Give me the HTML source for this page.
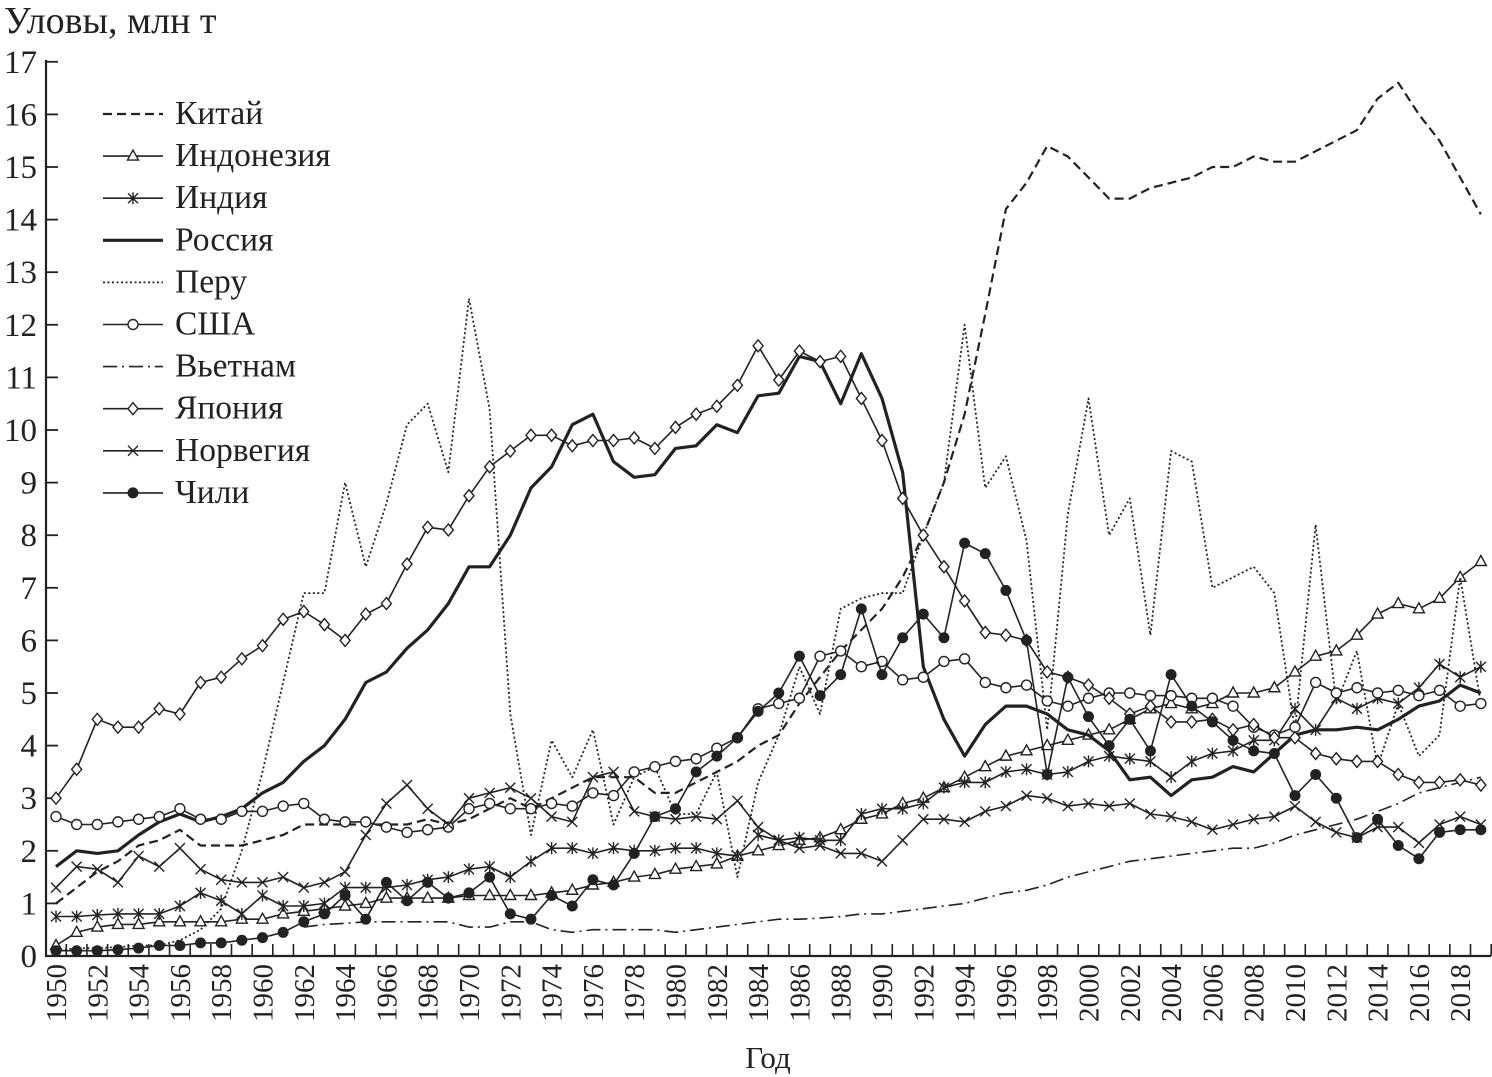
<!DOCTYPE html>
<html><head><meta charset="utf-8"><style>
body{margin:0;background:#fff}
svg{display:block;font-family:"Liberation Serif",serif}
</style></head><body>
<svg id="c" width="1492" height="1077"></svg>
<script>
const years=[];for(let y=1950;y<=2019;y++)years.push(y);
const china=[1.0,1.3,1.6,1.8,2.1,2.2,2.4,2.1,2.1,2.1,2.2,2.3,2.5,2.5,2.5,2.5,2.5,2.5,2.6,2.5,2.6,2.8,3.0,2.8,3.0,3.2,3.4,3.4,3.4,3.1,3.1,3.3,3.5,3.7,4.0,4.2,4.8,5.3,5.8,6.2,6.6,7.2,8.0,9.0,10.3,12.2,14.2,14.7,15.4,15.2,14.8,14.4,14.4,14.6,14.7,14.8,15.0,15.0,15.2,15.1,15.1,15.3,15.5,15.7,16.3,16.6,16.0,15.5,14.8,14.1];
const indonesia=[0.2,0.45,0.55,0.6,0.6,0.65,0.65,0.65,0.65,0.7,0.7,0.8,0.85,0.9,0.95,1.0,1.1,1.1,1.1,1.1,1.15,1.15,1.15,1.15,1.2,1.25,1.35,1.4,1.5,1.55,1.65,1.7,1.75,1.9,2.0,2.1,2.2,2.25,2.4,2.6,2.7,2.9,3.0,3.2,3.4,3.6,3.8,3.9,4.0,4.1,4.2,4.3,4.5,4.7,4.8,4.7,4.8,5.0,5.0,5.1,5.4,5.7,5.8,6.1,6.5,6.7,6.6,6.8,7.2,7.5];
const india=[0.75,0.75,0.78,0.8,0.8,0.8,0.95,1.2,1.05,0.8,1.15,0.95,0.95,1.0,1.3,1.3,1.3,1.35,1.45,1.5,1.65,1.7,1.5,1.8,2.05,2.05,1.95,2.05,2.0,2.0,2.05,2.05,1.95,1.9,2.3,2.2,2.25,2.2,2.2,2.7,2.8,2.8,2.9,3.2,3.3,3.3,3.5,3.55,3.45,3.5,3.7,3.8,3.75,3.7,3.4,3.7,3.85,3.9,4.1,4.1,4.7,4.3,4.9,4.7,4.9,4.8,5.1,5.55,5.3,5.5];
const russia=[1.7,2.0,1.95,2.0,2.3,2.55,2.7,2.55,2.65,2.8,3.1,3.3,3.7,4.0,4.5,5.2,5.4,5.85,6.2,6.7,7.4,7.4,8.0,8.9,9.3,10.1,10.3,9.4,9.1,9.15,9.65,9.7,10.1,9.95,10.65,10.7,11.4,11.3,10.5,11.45,10.6,9.2,5.5,4.5,3.8,4.4,4.75,4.75,4.6,4.3,4.2,3.9,3.35,3.4,3.05,3.35,3.4,3.6,3.5,3.85,4.2,4.3,4.3,4.35,4.3,4.5,4.75,4.85,5.15,5.0];
const peru=[0.1,0.15,0.15,0.17,0.2,0.2,0.3,0.5,0.9,2.0,3.5,5.2,6.9,6.9,9.0,7.4,8.6,10.1,10.5,9.2,12.5,10.4,4.6,2.3,4.1,3.4,4.3,2.5,3.4,3.6,2.7,2.7,3.5,1.5,3.3,4.2,5.5,4.6,6.6,6.8,6.9,6.9,8.0,9.0,12.0,8.9,9.5,7.9,4.3,8.4,10.6,8.0,8.7,6.1,9.6,9.4,7.0,7.2,7.4,6.9,4.3,8.2,4.8,5.8,3.6,4.8,3.8,4.2,7.2,4.8];
const usa=[2.65,2.5,2.5,2.55,2.6,2.65,2.8,2.6,2.6,2.75,2.75,2.85,2.9,2.6,2.55,2.55,2.45,2.35,2.4,2.45,2.8,2.9,2.8,2.8,2.9,2.85,3.1,3.05,3.5,3.6,3.7,3.75,3.95,4.15,4.7,4.8,4.9,5.7,5.8,5.5,5.6,5.25,5.3,5.6,5.65,5.2,5.1,5.15,4.85,4.75,4.9,5.0,5.0,4.95,4.95,4.9,4.9,4.75,4.35,4.2,4.35,5.2,5.0,5.1,5.0,5.05,4.95,5.05,4.75,4.8];
const vietnam=[null,null,null,null,null,null,null,null,null,null,null,null,0.55,0.6,0.62,0.65,0.65,0.65,0.65,0.65,0.55,0.55,0.65,0.65,0.5,0.45,0.5,0.5,0.5,0.5,0.45,0.5,0.55,0.6,0.65,0.7,0.7,0.72,0.75,0.8,0.8,0.85,0.9,0.95,1.0,1.1,1.2,1.25,1.35,1.5,1.6,1.7,1.8,1.85,1.9,1.95,2.0,2.05,2.05,2.15,2.3,2.4,2.5,2.6,2.75,2.9,3.1,3.2,3.3,3.4];
const japan=[3.0,3.55,4.5,4.35,4.35,4.7,4.6,5.2,5.3,5.65,5.9,6.4,6.55,6.3,6.0,6.5,6.7,7.45,8.15,8.1,8.75,9.3,9.6,9.9,9.9,9.7,9.8,9.8,9.85,9.65,10.05,10.3,10.45,10.85,11.6,10.95,11.5,11.3,11.4,10.6,9.8,8.7,8.0,7.4,6.75,6.15,6.1,6.0,5.4,5.3,5.15,4.9,4.6,4.75,4.45,4.45,4.5,4.3,4.4,4.15,4.15,3.85,3.75,3.7,3.7,3.45,3.3,3.3,3.35,3.25];
const norway=[1.3,1.7,1.65,1.4,1.9,1.7,2.05,1.65,1.45,1.4,1.4,1.5,1.3,1.4,1.6,2.3,2.9,3.25,2.8,2.5,3.0,3.1,3.2,3.0,2.65,2.55,3.4,3.5,2.75,2.65,2.6,2.65,2.6,2.95,2.45,2.2,2.05,2.1,1.95,1.95,1.8,2.2,2.6,2.6,2.55,2.75,2.85,3.05,3.0,2.85,2.9,2.85,2.9,2.7,2.65,2.55,2.4,2.5,2.6,2.65,2.85,2.55,2.35,2.25,2.45,2.45,2.15,2.5,2.65,2.5];
const chile=[0.1,0.1,0.1,0.12,0.15,0.2,0.2,0.25,0.25,0.3,0.35,0.45,0.65,0.8,1.15,0.7,1.4,1.05,1.4,1.1,1.2,1.5,0.8,0.7,1.15,0.95,1.45,1.35,1.95,2.65,2.8,3.5,3.8,4.15,4.65,5.0,5.7,4.95,5.35,6.6,5.35,6.05,6.5,6.05,7.85,7.65,6.95,6.0,3.45,5.3,4.55,4.0,4.5,3.9,5.35,4.75,4.45,4.1,3.9,3.85,3.05,3.45,3.0,2.25,2.6,2.1,1.85,2.35,2.4,2.4];
const yTicks=[0,1,2,3,4,5,6,7,8,9,10,11,12,13,14,15,16,17];
const legendNames=["Китай","Индонезия","Индия","Россия","Перу","США","Вьетнам","Япония","Норвегия","Чили"];

const NS="http://www.w3.org/2000/svg";
const svg=document.getElementById('c');
const X=y=>56+(y-1950)*20.65;
const Y=v=>956-v*52.6;
function mk(tag,attrs,parent){const e=document.createElementNS(NS,tag);for(const k in attrs)e.setAttribute(k,attrs[k]);(parent||svg).appendChild(e);return e;}
const series=[
 {d:china,key:'china',dash:'9,5',w:2.2,m:null},
 {d:indonesia,key:'indonesia',dash:'',w:1.6,m:'tri'},
 {d:india,key:'india',dash:'',w:1.6,m:'star'},
 {d:russia,key:'russia',dash:'',w:3.2,m:null},
 {d:peru,key:'peru',dash:'2,2.5',w:1.8,m:null},
 {d:usa,key:'usa',dash:'',w:1.6,m:'circ'},
 {d:vietnam,key:'vietnam',dash:'14,5,2,5',w:1.6,m:null},
 {d:japan,key:'japan',dash:'',w:1.6,m:'diam'},
 {d:norway,key:'norway',dash:'',w:1.6,m:'x'},
 {d:chile,key:'chile',dash:'',w:1.6,m:'dot'}];
function marker(type,x,y,g){
 const st={stroke:'#222','stroke-width':1.4,fill:'#fff'};
 if(type==='tri')mk('polygon',Object.assign({points:`${x},${y-6} ${x-5.5},${y+4} ${x+5.5},${y+4}`},st),g);
 else if(type==='circ')mk('circle',Object.assign({cx:x,cy:y,r:5},st),g);
 else if(type==='diam')mk('polygon',Object.assign({points:`${x},${y-6} ${x+5},${y} ${x},${y+6} ${x-5},${y}`},st),g);
 else if(type==='dot')mk('circle',{cx:x,cy:y,r:5.5,fill:'#222'},g);
 else if(type==='x'){mk('path',{d:`M${x-5},${y-5}L${x+5},${y+5}M${x-5},${y+5}L${x+5},${y-5}`,stroke:'#222','stroke-width':1.4},g);}
 else if(type==='star'){mk('path',{d:`M${x-5},${y-5}L${x+5},${y+5}M${x-5},${y+5}L${x+5},${y-5}M${x},${y-6}L${x},${y+6}`,stroke:'#222','stroke-width':1.4},g);}
}
const ax=mk('g',{});


mk('line',{x1:46,y1:60,x2:46,y2:957,stroke:'#222','stroke-width':2.2},ax);
mk('line',{x1:45,y1:956,x2:1491,y2:956,stroke:'#222','stroke-width':2.2},ax);
yTicks.forEach(t=>{
 mk('line',{x1:46,y1:Y(t),x2:58,y2:Y(t),stroke:'#222','stroke-width':1.8},ax);
 const tx=mk('text',{x:37,y:Y(t)+11,'text-anchor':'end','font-size':33,fill:'#222'},ax);tx.textContent=t;
 
 
});
years.forEach((yr,i)=>{
 const bx=X(yr)+10.3;
 mk('line',{x1:bx,y1:956,x2:bx,y2:944,stroke:'#222','stroke-width':1.6},ax);
 if(yr%2===0){const tx=mk('text',{transform:`translate(${X(yr)+10},964) rotate(-90)`,'text-anchor':'end','font-size':29,fill:'#222'},ax);tx.textContent=yr;
 
 }
});
const yt=mk('text',{x:4,y:33,'font-size':38,fill:'#222'});yt.textContent='Уловы, млн т';


const xt=mk('text',{x:768,y:1068,'text-anchor':'middle','font-size':31,fill:'#222'});xt.textContent='Год';


series.forEach(s=>{
 const g=mk('g',{});
 
 
 let d='',pen=false;
 s.d.forEach((v,i)=>{if(v==null){pen=false;return;}d+=(pen?'L':'M')+X(years[i]).toFixed(1)+','+Y(v).toFixed(1);pen=true;});
 mk('path',{d:d,fill:'none',stroke:'#222','stroke-width':s.w,'stroke-dasharray':s.dash,'stroke-linejoin':'round'},g);
 if(s.m)s.d.forEach((v,i)=>{if(v!=null)marker(s.m,X(years[i]),Y(v),g);});
});
const lg=mk('g',{});


series.forEach((s,i)=>{
 const y=114+i*42.1;
 const e=mk('g',{},lg);
 
 
 mk('line',{x1:103,y1:y,x2:163,y2:y,stroke:'#222','stroke-width':s.w,'stroke-dasharray':s.dash},e);
 if(s.m)marker(s.m,133,y,e);
 const t=mk('text',{x:175,y:y+10,'font-size':33.5,fill:'#222'},e);t.textContent=legendNames[i];
});
</script>
</body></html>
